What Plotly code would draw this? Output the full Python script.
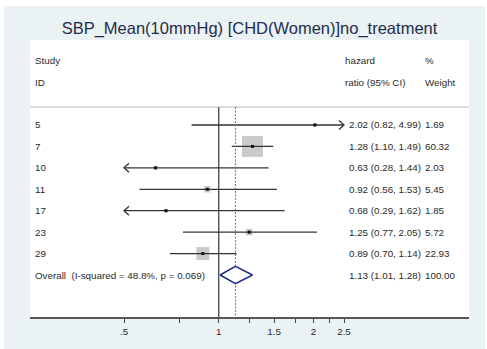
import math
import plotly.graph_objects as go

# ---- data ----
studies = ['5', '7', '10', '11', '17', '23', '29']
hr = [2.02, 1.28, 0.63, 0.92, 0.68, 1.25, 0.89]
ci_lo = [0.82, 1.10, 0.28, 0.56, 0.29, 0.77, 0.70]
ci_hi = [4.99, 1.49, 1.44, 1.53, 1.62, 2.05, 1.14]
weights = [1.69, 60.32, 2.03, 5.45, 1.85, 5.72, 22.93]
overall_label = 'Overall  (I-squared = 48.8%, p = 0.069)'
overall_hr, overall_lo, overall_hi, overall_w = 1.13, 1.01, 1.28, 100.00
tick_vals = [0.5, 0.75, 1, 1.25, 1.5, 1.75, 2, 2.25, 2.5]
tick_text = ['.5', '', '1', '', '1.5', '', '2', '', '2.5']
title = 'SBP_Mean(10mmHg) [CHD(Women)]no_treatment'

W, H = 487, 349
ML, MR, MT, MB = 30, 18, 40, 32
clip_lo, clip_hi = min(tick_vals), max(tick_vals)

# row positions (row 0 = "Study", row 1 = "ID")
first_row = 3
rows = [first_row + i for i in range(len(studies))]
overall_row = first_row + len(studies)
sep_row = 2.16
ymin, ymax = -0.966, 11.96

FONT = 'Liberation Sans, Arial, sans-serif'
TXT = '#2a2a2a'
FS = 9.8

fig = go.Figure()

# CI lines (clipped to axis tick range)
lx, ly = [], []
ax, ay = [], []
fac = math.exp(5 / 136.7)
for y, lo, hi in zip(rows, ci_lo, ci_hi):
    a = max(lo, clip_lo)
    b = min(hi, clip_hi)
    lx += [a, b, None]
    ly += [y, y, None]
    if lo < clip_lo:
        ax += [clip_lo * fac, clip_lo, clip_lo * fac, None]
        ay += [y - 0.21, y, y + 0.21, None]
    if hi > clip_hi:
        ax += [clip_hi / fac, clip_hi, clip_hi / fac, None]
        ay += [y - 0.21, y, y + 0.21, None]

# weight boxes
max_w = max(weights)
sizes = [21 * math.sqrt(w / max_w) for w in weights]
fig.add_trace(go.Scatter(x=hr, y=rows, mode='markers',
                         marker=dict(symbol='square', size=sizes, color='#b3b3b3',
                                     line=dict(width=0)),
                         hoverinfo='skip', showlegend=False))
fig.add_trace(go.Scatter(x=lx, y=ly, mode='lines',
                         line=dict(color='#333333', width=1.3),
                         hoverinfo='skip', showlegend=False))
fig.add_trace(go.Scatter(x=ax, y=ay, mode='lines',
                         line=dict(color='#333333', width=1.3),
                         hoverinfo='skip', showlegend=False))
fig.add_trace(go.Scatter(x=hr, y=rows, mode='markers',
                         marker=dict(symbol='square', size=3, color='#111111'),
                         hoverinfo='skip', showlegend=False))

# vertical null line and overall dashed line
y_top_lines = sep_row
fig.add_trace(go.Scatter(x=[1, 1], y=[y_top_lines, ymax], mode='lines',
                         line=dict(color='#333333', width=1.2),
                         hoverinfo='skip', showlegend=False))
fig.add_trace(go.Scatter(x=[overall_hr, overall_hr], y=[y_top_lines, ymax], mode='lines',
                         line=dict(color='#c8566a', width=1.1, dash='2px,1.5px'),
                         hoverinfo='skip', showlegend=False))

# overall diamond
dh = 0.4
fig.add_trace(go.Scatter(x=[overall_lo, overall_hr, overall_hi, overall_hr, overall_lo],
                         y=[overall_row, overall_row - dh, overall_row, overall_row + dh, overall_row],
                         mode='lines', fill='toself', fillcolor='white',
                         line=dict(color='#1f2a8a', width=1.5),
                         hoverinfo='skip', showlegend=False))

# text annotations
def px2paper(px):
    return (px - ML) / (W - ML - MR)

ann = []
def txt(xpx, y, s):
    ann.append(dict(x=px2paper(xpx), xref='paper', y=y, yref='y', text=s,
                    showarrow=False, xanchor='left', yanchor='middle',
                    font=dict(family=FONT, size=FS, color=TXT)))

txt(33, 0, 'Study')
txt(33, 1, 'ID')
txt(343, 0, 'hazard')
txt(343, 1, 'ratio (95% CI)')
txt(423, 0, '%')
txt(423, 1, 'Weight')
for y, s, h, lo, hi, w in zip(rows, studies, hr, ci_lo, ci_hi, weights):
    txt(33, y, s)
    txt(347, y, f'{h:.2f} ({lo:.2f}, {hi:.2f})')
    txt(423, y, f'{w:.2f}')
txt(33, overall_row, overall_label)
txt(347, overall_row, f'{overall_hr:.2f} ({overall_lo:.2f}, {overall_hi:.2f})')
txt(423, overall_row, f'{overall_w:.2f}')

# background shapes
shapes = [
    dict(type='rect', xref='paper', yref='paper', layer='below',
         x0=px2paper(4), x1=px2paper(485),
         y0=-MB / (H - MT - MB),
         y1=1 + (MT - 6) / (H - MT - MB),
         fillcolor='#eaf2f3', line=dict(width=0)),
    dict(type='rect', xref='paper', yref='paper', layer='below',
         x0=0, x1=1, y0=0, y1=1, fillcolor='white', line=dict(width=0)),
    dict(type='line', xref='paper', yref='y', layer='below',
         x0=0, x1=1, y0=sep_row, y1=sep_row, line=dict(color='#dddddd', width=2)),
]

lg0 = math.log10(math.exp((30 - 218.75) / 136.7))
lg1 = math.log10(math.exp((469 - 218.75) / 136.7))

fig.update_layout(
    width=W, height=H,
    margin=dict(l=ML, r=MR, t=MT, b=MB, pad=0),
    paper_bgcolor='white', plot_bgcolor='white',
    title=dict(text=title, x=0.5, xref='paper', xanchor='center',
               y=1 - 28 / H, yref='container', yanchor='middle',
               font=dict(family=FONT, size=16.5, color='#1f2d4d')),
    xaxis=dict(type='log', range=[lg0, lg1], tickvals=tick_vals, ticktext=tick_text,
               ticks='outside', ticklen=4, tickcolor='#444444', tickwidth=1,
               showline=True, linecolor='#555555', linewidth=1.5,
               showgrid=False, zeroline=False,
               tickfont=dict(family=FONT, size=FS, color=TXT)),
    yaxis=dict(range=[ymax, ymin], visible=False, showgrid=False, zeroline=False),
    annotations=ann, shapes=shapes,
)

fig.write_html('out.html')
